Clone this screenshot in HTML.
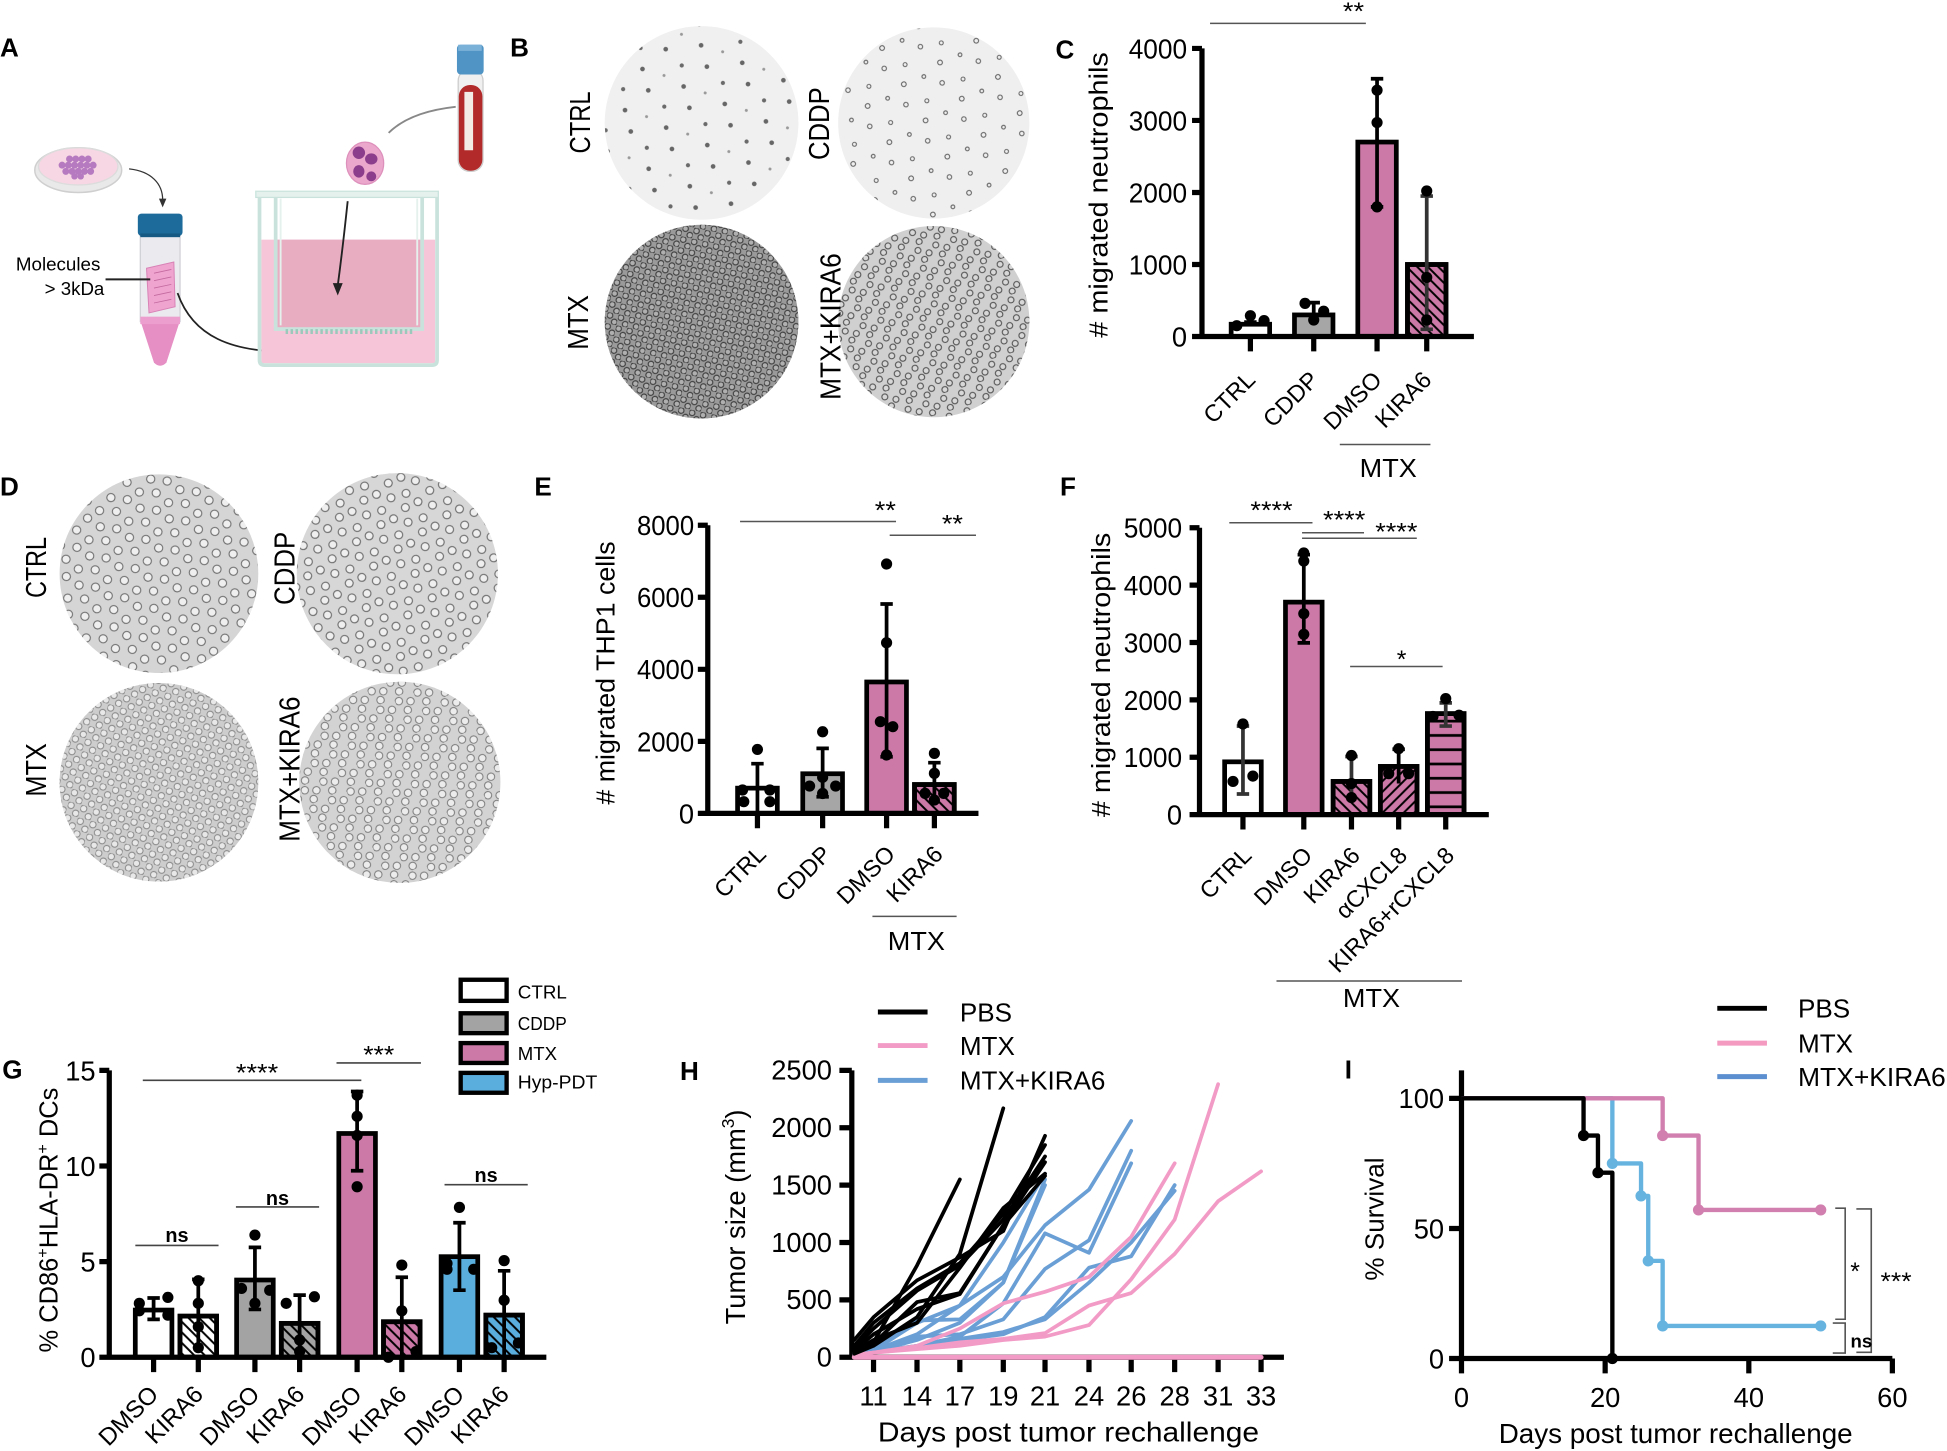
<!DOCTYPE html>
<html><head><meta charset="utf-8">
<style>html,body{margin:0;padding:0;background:#fff}svg{display:block}text{font-family:"Liberation Sans",sans-serif;fill:#000}</style>
</head><body>
<svg width="1947" height="1451" viewBox="0 0 1568 1168.5" preserveAspectRatio="none" xmlns="http://www.w3.org/2000/svg">
<defs>
<pattern id="hb" patternUnits="userSpaceOnUse" width="8.5" height="8.5"><path d="M-1,-1 L9.5,9.5 M-1,7.5 L1,9.5 M7.5,-1 L9.5,1" stroke="#000" stroke-width="1.6"/></pattern>
<pattern id="hf" patternUnits="userSpaceOnUse" width="8.5" height="8.5"><path d="M-1,9.5 L9.5,-1 M-1,1 L1,-1 M7.5,9.5 L9.5,7.5" stroke="#000" stroke-width="1.6"/></pattern>
<pattern id="hh" patternUnits="userSpaceOnUse" width="10" height="11.5"><path d="M0,5.75 H10" stroke="#000" stroke-width="2.2"/></pattern>
<pattern id="pB1" patternUnits="userSpaceOnUse" width="36" height="36" patternTransform="rotate(23)"><circle cx="5" cy="7" r="1.9" fill="#666"/><circle cx="22" cy="14" r="1.7" fill="#6a6a6a"/><circle cx="30" cy="29" r="1.9" fill="#666"/><circle cx="12" cy="27" r="1.2" fill="#999"/></pattern>
<pattern id="pB2" patternUnits="userSpaceOnUse" width="34" height="34" patternTransform="rotate(-31)"><g fill="none" stroke="#666" stroke-width="0.9"><circle cx="4" cy="6" r="1.8"/><circle cx="20" cy="12" r="1.6"/><circle cx="11" cy="25" r="1.9"/><circle cx="28" cy="28" r="1.5"/></g></pattern>
<pattern id="pB3" patternUnits="userSpaceOnUse" width="9" height="9" patternTransform="rotate(12)"><g fill="#b0b0b0" stroke="#3d3d3d" stroke-width="0.9"><circle cx="2.3" cy="2.3" r="2.3"/><circle cx="6.8" cy="6.8" r="2.3"/></g></pattern>
<pattern id="pB4" patternUnits="userSpaceOnUse" width="15" height="15" patternTransform="rotate(-17)"><g fill="#d8d8d8" stroke="#555" stroke-width="0.9"><circle cx="3" cy="4" r="2.4"/><circle cx="11" cy="8.5" r="2.4"/><circle cx="6" cy="12.5" r="2.4"/></g></pattern>
<pattern id="pD1" patternUnits="userSpaceOnUse" width="25" height="25" patternTransform="rotate(20)"><g fill="#efefef" stroke="#6f6f6f" stroke-width="0.9"><circle cx="4" cy="5" r="3.3"/><circle cx="16" cy="9" r="3.3"/><circle cx="9" cy="18" r="3.3"/><circle cx="21" cy="21" r="3.3"/></g></pattern>
<pattern id="pD2" patternUnits="userSpaceOnUse" width="24" height="24" patternTransform="rotate(-35)"><g fill="#efefef" stroke="#707070" stroke-width="0.9"><circle cx="4" cy="5" r="3.2"/><circle cx="16" cy="9" r="3.2"/><circle cx="9" cy="18" r="3.2"/><circle cx="20" cy="20" r="3.2"/></g></pattern>
<pattern id="pD3" patternUnits="userSpaceOnUse" width="10.5" height="10.5" patternTransform="rotate(15)"><g fill="#e8e8e8" stroke="#8a8a8a" stroke-width="0.8"><circle cx="2.6" cy="2.6" r="2.6"/><circle cx="7.9" cy="7.9" r="2.6"/></g></pattern>
<pattern id="pD4" patternUnits="userSpaceOnUse" width="16.5" height="16.5" patternTransform="rotate(-25)"><g fill="#ececec" stroke="#7a7a7a" stroke-width="0.8"><circle cx="3" cy="4" r="3"/><circle cx="11.5" cy="8" r="3"/><circle cx="6.5" cy="13.5" r="3"/></g></pattern>
</defs>
<rect x="0" y="0" width="1568" height="1168.5" fill="#fff"/>

<!-- ============ PANEL A ============ -->
<text x="0" y="45.5" font-size="21" font-weight="bold">A</text>
<ellipse cx="63" cy="137" rx="35" ry="18" fill="#e9e9ea" stroke="#cfcfcf" stroke-width="1.2"/>
<ellipse cx="63" cy="134" rx="32" ry="15" fill="#f6d7e3" stroke="#dcdcdc"/>
<g fill="#b57ac0">
<circle cx="56" cy="128" r="2.8"/><circle cx="61" cy="128" r="2.8"/><circle cx="66" cy="128" r="2.8"/><circle cx="71" cy="128" r="2.8"/>
<circle cx="50" cy="133" r="2.8"/><circle cx="55" cy="133" r="2.8"/><circle cx="60" cy="133" r="2.8"/><circle cx="65" cy="133" r="2.8"/><circle cx="70" cy="133" r="2.8"/><circle cx="75" cy="133" r="2.8"/>
<circle cx="53" cy="138" r="2.8"/><circle cx="58" cy="138" r="2.8"/><circle cx="63" cy="138" r="2.8"/><circle cx="68" cy="138" r="2.8"/><circle cx="73" cy="138" r="2.8"/>
<circle cx="60" cy="142" r="2.6"/><circle cx="65" cy="142" r="2.6"/>
</g>
<path d="M104,136 C122,138 131,148 131,161" stroke="#333" stroke-width="1" fill="none"/>
<polygon points="128,160 134,160 131,167" fill="#333"/>
<!-- conical tube -->
<rect x="113" y="189" width="32" height="70" fill="#ebebef" stroke="#cfcfd6" stroke-width="1"/>
<path d="M113,258 L145,258 L134,292 Q129,297 124,292 Z" fill="#e58fc4"/>
<rect x="113" y="255" width="32" height="6" fill="#ec9fcf"/>
<polygon points="118,216 140,211 141,247 120,252" fill="#efa4cf" stroke="#d882b6" stroke-width="0.8"/>
<path d="M124,220 L138,217 M124,226 L138,223 M124,232 L138,229 M124,238 L138,235 M124,244 L138,241" stroke="#c46aa0" stroke-width="0.7"/>
<rect x="111" y="172" width="36" height="18" rx="3" fill="#1d6b9a"/>
<rect x="113" y="188" width="32" height="3" fill="#165a84"/>
<text x="12.8" y="218" font-size="15" textLength="68" lengthAdjust="spacingAndGlyphs">Molecules</text>
<text x="36" y="237.6" font-size="15" textLength="48" lengthAdjust="spacingAndGlyphs">&gt; 3kDa</text>
<path d="M85,225 H121" stroke="#222" stroke-width="1.6"/>
<path d="M143,236 C155,270 185,285 240,283" stroke="#222" stroke-width="1.4" fill="none"/>
<polygon points="238,279 247,283 238,287" fill="#222"/>
<!-- transwell -->
<rect x="210.5" y="193" width="140" height="99.5" fill="#f6c5d7"/>
<path d="M209,159 V290 Q209,294 213,294 H348 Q352,294 352,290 V159" stroke="#c9e3dc" stroke-width="3" fill="none"/>
<rect x="223.5" y="193" width="115" height="71" fill="#e9adc2"/>
<path d="M222,157 V265 H340 V157" stroke="#c9e3dc" stroke-width="3" fill="none"/>
<path d="M226,160 V262 M336,160 V262" stroke="#e4f1ed" stroke-width="1.5"/>
<rect x="206" y="154" width="147" height="5" fill="#e4f1ed" stroke="#c9e3dc" stroke-width="1"/>
<path d="M230,267 H332" stroke="#9cc8bc" stroke-width="4" stroke-dasharray="2 2"/>
<!-- neutrophil -->
<ellipse cx="294" cy="131.5" rx="15" ry="17" fill="#eba7cc" stroke="#dd90bb"/>
<ellipse cx="289" cy="123" rx="5" ry="5" fill="#8c3d8c"/>
<ellipse cx="299" cy="128" rx="5" ry="4.5" fill="#8c3d8c"/>
<ellipse cx="289" cy="138" rx="4.5" ry="5" fill="#8c3d8c"/>
<ellipse cx="299" cy="142" rx="4" ry="4" fill="#8c3d8c"/>
<path d="M280,162 Q276,200 272,230" stroke="#222" stroke-width="1.5" fill="none"/>
<polygon points="268,228 276,228 272,238" fill="#222"/>
<!-- blood tube -->
<rect x="369" y="56" width="20" height="82" rx="9" fill="#f0f0f0" stroke="#cccccc"/>
<rect x="369.5" y="68.5" width="19" height="69" rx="9" fill="#b22a2a"/>
<rect x="374" y="74" width="7" height="47" fill="#f3ece6"/>
<rect x="368" y="36" width="21.5" height="24" rx="3" fill="#4f94c4"/>
<rect x="369" y="36" width="19" height="5" fill="#7ab1d8"/>
<path d="M313,107 Q330,90 367,86" stroke="#888" stroke-width="1.5" fill="none"/>

<!-- ============ PANEL B ============ -->
<text x="410.8" y="45.5" font-size="21" font-weight="bold">B</text>
<circle cx="565" cy="99" r="78" fill="#f0f0f0"/><circle cx="565" cy="99" r="78" fill="url(#pB1)"/>
<circle cx="752" cy="99" r="77" fill="#efefef"/><circle cx="752" cy="99" r="77" fill="url(#pB2)"/>
<circle cx="565" cy="259" r="78" fill="#9a9a9a"/><circle cx="565" cy="259" r="78" fill="url(#pB3)"/>
<circle cx="752" cy="259" r="77" fill="#d0d0d0"/><circle cx="752" cy="259" r="77" fill="url(#pB4)"/>
<g font-size="23" text-anchor="middle">
<text transform="translate(475,98.6) rotate(-90)" textLength="50" lengthAdjust="spacingAndGlyphs">CTRL</text>
<text transform="translate(667.5,99.6) rotate(-90)" textLength="58.6" lengthAdjust="spacingAndGlyphs">CDDP</text>
<text transform="translate(473.5,259.7) rotate(-90)" textLength="44" lengthAdjust="spacingAndGlyphs">MTX</text>
<text transform="translate(677,263) rotate(-90)" textLength="118" lengthAdjust="spacingAndGlyphs">MTX+KIRA6</text>
</g>

<!-- ============ PANEL C ============ -->
<text x="850" y="47" font-size="21" font-weight="bold">C</text>
<path d="M974.5,18.8 H1100" stroke="#555" stroke-width="1.2"/>
<text x="1090" y="16" font-size="20" text-anchor="middle" textLength="17" lengthAdjust="spacingAndGlyphs">**</text>
<g stroke="#000" stroke-width="3.8">
<rect x="991.5" y="261.1" width="31" height="9.9" fill="#fff"/>
<rect x="1042.5" y="253.6" width="31" height="17.4" fill="#a6a6a6"/>
<rect x="1093.5" y="114.4" width="31" height="156.6" fill="#cc79a7"/>
<rect x="1133.5" y="213" width="31" height="58" fill="#cc79a7"/>
</g>
<rect x="1133.5" y="213" width="31" height="58" fill="url(#hb)"/>
<rect x="1133.5" y="213" width="31" height="58" fill="none" stroke="#000" stroke-width="3.8"/>
<g stroke="#000" stroke-width="3" fill="none">
<path d="M1007,259.4 V262.9 M1002,259.4 H1012"/>
<path d="M1058,259.4 V243.7 M1053,243.7 H1063"/>
<path d="M1109,166.6 V63.4 M1104,63.4 H1114 M1104,166.6 H1114"/>
<path d="M1149,265.2 V157.9 M1144,157.9 H1154 M1144,265.2 H1154" stroke="#333"/>
</g>
<g fill="#000">
<circle cx="996" cy="262.3" r="4.5"/><circle cx="1007" cy="254.2" r="4.5"/><circle cx="1018" cy="258.2" r="4.5"/>
<circle cx="1051" cy="244.3" r="4.5"/><circle cx="1058" cy="257.7" r="4.5"/><circle cx="1066" cy="250.6" r="4.5"/>
<circle cx="1109" cy="72.6" r="4.5"/><circle cx="1109" cy="98.7" r="4.5"/><circle cx="1109" cy="166.6" r="4.5"/>
<circle cx="1149" cy="153.8" r="4.5"/><circle cx="1149" cy="223.4" r="4.5"/><circle cx="1149" cy="257.7" r="4.5"/>
</g>
<path d="M968,39 V271 H1187 M960,39 H968 M960,97 H968 M960,155 H968 M960,213 H968 M960,271 H968 M1007,271 V283 M1058,271 V283 M1109,271 V283 M1149,271 V283" stroke="#000" stroke-width="4.2" fill="none"/>
<g font-size="22" text-anchor="end">
<text x="956" y="47" textLength="47" lengthAdjust="spacingAndGlyphs">4000</text>
<text x="956" y="105" textLength="47" lengthAdjust="spacingAndGlyphs">3000</text>
<text x="956" y="163" textLength="47" lengthAdjust="spacingAndGlyphs">2000</text>
<text x="956" y="221" textLength="47" lengthAdjust="spacingAndGlyphs">1000</text>
<text x="956" y="279">0</text>
</g>
<text transform="translate(892,157) rotate(-90)" font-size="21" text-anchor="middle" textLength="230" lengthAdjust="spacingAndGlyphs"># migrated neutrophils</text>
<g font-size="19" text-anchor="end">
<text transform="translate(1012,307) rotate(-45)">CTRL</text>
<text transform="translate(1063,307) rotate(-45)">CDDP</text>
<text transform="translate(1114,307) rotate(-45)">DMSO</text>
<text transform="translate(1154,307) rotate(-45)">KIRA6</text>
</g>
<path d="M1079,358 H1152" stroke="#555" stroke-width="1.2"/>
<text x="1118" y="384" font-size="21" text-anchor="middle" textLength="46" lengthAdjust="spacingAndGlyphs">MTX</text>

<!-- ============ PANEL D ============ -->
<text x="0" y="399" font-size="21" font-weight="bold">D</text>
<circle cx="128" cy="462" r="80" fill="#d5d5d5"/><circle cx="128" cy="462" r="80" fill="url(#pD1)"/>
<circle cx="320" cy="462" r="81" fill="#d7d7d7"/><circle cx="320" cy="462" r="81" fill="url(#pD2)"/>
<circle cx="128" cy="630" r="80" fill="#cdcdcd"/><circle cx="128" cy="630" r="80" fill="url(#pD3)"/>
<circle cx="322" cy="630" r="81" fill="#d3d3d3"/><circle cx="322" cy="630" r="81" fill="url(#pD4)"/>
<g font-size="23" text-anchor="middle">
<text transform="translate(37,457) rotate(-90)" textLength="49" lengthAdjust="spacingAndGlyphs">CTRL</text>
<text transform="translate(237.3,457.7) rotate(-90)" textLength="59" lengthAdjust="spacingAndGlyphs">CDDP</text>
<text transform="translate(37,620) rotate(-90)" textLength="43" lengthAdjust="spacingAndGlyphs">MTX</text>
<text transform="translate(241.4,619.4) rotate(-90)" textLength="117" lengthAdjust="spacingAndGlyphs">MTX+KIRA6</text>
</g>

<!-- ============ PANEL E ============ -->
<text x="430.4" y="399" font-size="21" font-weight="bold">E</text>
<path d="M596,420 H721.6 M716.5,431 H786" stroke="#555" stroke-width="1.2"/>
<text x="713" y="418" font-size="20" text-anchor="middle" textLength="17" lengthAdjust="spacingAndGlyphs">**</text>
<text x="767" y="429" font-size="20" text-anchor="middle" textLength="17" lengthAdjust="spacingAndGlyphs">**</text>
<g stroke="#000" stroke-width="3.8">
<rect x="594" y="634.7" width="32" height="20.3" fill="#fff"/>
<rect x="646.5" y="623.1" width="32" height="31.9" fill="#a6a6a6"/>
<rect x="698" y="549.2" width="32" height="105.8" fill="#cc79a7"/>
<rect x="736.5" y="631.8" width="32" height="23.2" fill="#cc79a7"/>
</g>
<rect x="736.5" y="631.8" width="32" height="23.2" fill="url(#hb)"/>
<rect x="736.5" y="631.8" width="32" height="23.2" fill="none" stroke="#000" stroke-width="3.8"/>
<g stroke="#000" stroke-width="3" fill="none">
<path d="M610,655 V615 M605,615 H615"/>
<path d="M662.5,641.6 V602.7 M657.5,602.7 H667.5 M657.5,641.6 H667.5"/>
<path d="M714,609.4 V486.4 M709,486.4 H719 M709,609.4 H719"/>
<path d="M752.5,648 V614.2 M747.5,614.2 H757.5"/>
</g>
<g fill="#000">
<circle cx="610" cy="603.5" r="4.5"/><circle cx="598" cy="636.2" r="4.5"/><circle cx="620" cy="636.2" r="4.5"/><circle cx="599" cy="645.6" r="4.5"/><circle cx="620" cy="645.6" r="4.5"/>
<circle cx="662.5" cy="589.3" r="4.5"/><circle cx="652" cy="633" r="4.5"/><circle cx="673" cy="633" r="4.5"/><circle cx="662.5" cy="639" r="4.5"/><circle cx="662.5" cy="626" r="4.5"/>
<circle cx="714" cy="454.2" r="4.5"/><circle cx="714" cy="517.6" r="4.5"/><circle cx="709" cy="581.2" r="4.5"/><circle cx="719" cy="585.2" r="4.5"/><circle cx="714" cy="608" r="4.5"/>
<circle cx="752.5" cy="606.7" r="4.5"/><circle cx="752.5" cy="622.8" r="4.5"/><circle cx="745" cy="638.9" r="4.5"/><circle cx="760" cy="638.9" r="4.5"/><circle cx="752.5" cy="644.3" r="4.5"/>
</g>
<path d="M570,423 V655 H788 M562,423 H570 M562,481 H570 M562,539 H570 M562,597 H570 M562,655 H570 M610,655 V667 M662.5,655 V667 M714,655 V667 M752.5,655 V667" stroke="#000" stroke-width="4.2" fill="none"/>
<g font-size="22" text-anchor="end">
<text x="559" y="431" textLength="46" lengthAdjust="spacingAndGlyphs">8000</text>
<text x="559" y="489" textLength="46" lengthAdjust="spacingAndGlyphs">6000</text>
<text x="559" y="547" textLength="46" lengthAdjust="spacingAndGlyphs">4000</text>
<text x="559" y="605" textLength="46" lengthAdjust="spacingAndGlyphs">2000</text>
<text x="559" y="663">0</text>
</g>
<text transform="translate(495,542) rotate(-90)" font-size="21" text-anchor="middle" textLength="212" lengthAdjust="spacingAndGlyphs"># migrated THP1 cells</text>
<g font-size="19" text-anchor="end">
<text transform="translate(618,689) rotate(-45)">CTRL</text>
<text transform="translate(670.5,689) rotate(-45)">CDDP</text>
<text transform="translate(722,689) rotate(-45)">DMSO</text>
<text transform="translate(760.5,689) rotate(-45)">KIRA6</text>
</g>
<path d="M702.6,738 H770.4" stroke="#555" stroke-width="1.2"/>
<text x="738" y="765" font-size="21" text-anchor="middle" textLength="46" lengthAdjust="spacingAndGlyphs">MTX</text>

<!-- ============ PANEL F ============ -->
<text x="853.7" y="399" font-size="21" font-weight="bold">F</text>
<path d="M990,421 H1057 M1048.6,429 H1098.5 M1048.6,433.5 H1141 M1087.3,536.7 H1161.8" stroke="#555" stroke-width="1.2"/>
<g font-size="20" text-anchor="middle">
<text x="1024" y="418" textLength="34" lengthAdjust="spacingAndGlyphs">****</text>
<text x="1082.5" y="425.6" textLength="34" lengthAdjust="spacingAndGlyphs">****</text>
<text x="1124.5" y="435.4" textLength="34" lengthAdjust="spacingAndGlyphs">****</text>
<text x="1128.8" y="538">*</text>
</g>
<g stroke="#000" stroke-width="3.8">
<rect x="986.25" y="613.5" width="29.5" height="42.5" fill="#fff"/>
<rect x="1035.25" y="484.9" width="29.5" height="171.1" fill="#cc79a7"/>
<rect x="1073.65" y="629.3" width="29.5" height="26.7" fill="#cc79a7"/>
<rect x="1111.65" y="617.2" width="29.5" height="38.8" fill="#cc79a7"/>
<rect x="1149.55" y="574.7" width="29.5" height="81.3" fill="#cc79a7"/>
</g>
<rect x="1073.65" y="629.3" width="29.5" height="26.7" fill="url(#hb)"/>
<rect x="1111.65" y="617.2" width="29.5" height="38.8" fill="url(#hf)"/>
<rect x="1149.55" y="574.7" width="29.5" height="81.3" fill="url(#hh)"/>
<g fill="none" stroke="#000" stroke-width="3.8">
<rect x="1073.65" y="629.3" width="29.5" height="26.7"/>
<rect x="1111.65" y="617.2" width="29.5" height="38.8"/>
<rect x="1149.55" y="574.7" width="29.5" height="81.3"/>
</g>
<g stroke="#000" stroke-width="3" fill="none">
<path d="M1001,639.4 V584.7 M996,584.7 H1006 M996,639.4 H1006" stroke="#333"/>
<path d="M1050,517.7 V446.7 M1045,446.7 H1055 M1045,517.7 H1055"/>
<path d="M1088.4,645 V609.2 M1083.4,609.2 H1093.4" stroke="#333"/>
<path d="M1126.4,631 V603.4 M1121.4,603.4 H1131.4"/>
<path d="M1164.3,584.7 V566 M1159.3,566 H1169.3 M1159.3,584.7 H1169.3" stroke="#333"/>
</g>
<g fill="#000">
<circle cx="1001" cy="583" r="4.5"/><circle cx="993" cy="629.3" r="4.5"/><circle cx="1009" cy="625" r="4.5"/>
<circle cx="1050" cy="445.3" r="4.5"/><circle cx="1050" cy="451.8" r="4.5"/><circle cx="1050" cy="494.2" r="4.5"/><circle cx="1050" cy="510.8" r="4.5"/>
<circle cx="1088.4" cy="608.4" r="4.5"/><circle cx="1088.4" cy="631" r="4.5"/><circle cx="1088.4" cy="642.3" r="4.5"/>
<circle cx="1126.4" cy="602.9" r="4.5"/><circle cx="1118.4" cy="623" r="4.5"/><circle cx="1134.4" cy="623" r="4.5"/>
<circle cx="1164.3" cy="562.6" r="4.5"/><circle cx="1154" cy="577" r="4.5"/><circle cx="1175" cy="576" r="4.5"/>
</g>
<path d="M966,425 V656 H1199 M958,425 H966 M958,471.2 H966 M958,517.4 H966 M958,563.6 H966 M958,609.8 H966 M958,656 H966 M1001,656 V668 M1050,656 V668 M1088.4,656 V668 M1126.4,656 V668 M1164.3,656 V668" stroke="#000" stroke-width="4.2" fill="none"/>
<g font-size="22" text-anchor="end">
<text x="952" y="433" textLength="47" lengthAdjust="spacingAndGlyphs">5000</text>
<text x="952" y="479.2" textLength="47" lengthAdjust="spacingAndGlyphs">4000</text>
<text x="952" y="525.4" textLength="47" lengthAdjust="spacingAndGlyphs">3000</text>
<text x="952" y="571.6" textLength="47" lengthAdjust="spacingAndGlyphs">2000</text>
<text x="952" y="617.8" textLength="47" lengthAdjust="spacingAndGlyphs">1000</text>
<text x="952" y="664">0</text>
</g>
<text transform="translate(894,543.5) rotate(-90)" font-size="21" text-anchor="middle" textLength="229" lengthAdjust="spacingAndGlyphs"># migrated neutrophils</text>
<g font-size="19" text-anchor="end">
<text transform="translate(1009,690) rotate(-45)">CTRL</text>
<text transform="translate(1058,690) rotate(-45)">DMSO</text>
<text transform="translate(1096.4,690) rotate(-45)">KIRA6</text>
<text transform="translate(1134.4,690) rotate(-45)">αCXCL8</text>
<text transform="translate(1172.3,690) rotate(-45)">KIRA6+rCXCL8</text>
</g>
<path d="M1028,790 H1177.4" stroke="#555" stroke-width="1.2"/>
<text x="1104.5" y="811" font-size="21" text-anchor="middle" textLength="46" lengthAdjust="spacingAndGlyphs">MTX</text>

<!-- ============ PANEL G ============ -->
<text x="1.8" y="868.4" font-size="21" font-weight="bold">G</text>
<g stroke="#000" stroke-width="3.5">
<rect x="371" y="789" width="37" height="17" fill="#fff"/>
<rect x="371" y="816" width="37" height="16" fill="#a3a3a3"/>
<rect x="371" y="840" width="37" height="16" fill="#cc79a7"/>
<rect x="371" y="864" width="37" height="16" fill="#5aaede"/>
</g>
<g font-size="15">
<text x="417" y="804" textLength="39.5" lengthAdjust="spacingAndGlyphs">CTRL</text>
<text x="417" y="829.5" textLength="39.5" lengthAdjust="spacingAndGlyphs">CDDP</text>
<text x="417" y="853.6" textLength="31.6" lengthAdjust="spacingAndGlyphs">MTX</text>
<text x="417" y="876.5" textLength="64" lengthAdjust="spacingAndGlyphs">Hyp-PDT</text>
</g>
<path d="M109,1003 H176 M190,972 H257 M358,954 H425 M115,870 H291 M271,856 H339" stroke="#444" stroke-width="1.3"/>
<g font-size="16" font-weight="bold" text-anchor="middle">
<text x="142.5" y="1000">ns</text><text x="223.5" y="970.5">ns</text><text x="391.5" y="951.7">ns</text>
</g>
<g font-size="20" text-anchor="middle">
<text x="207" y="871" textLength="34" lengthAdjust="spacingAndGlyphs">****</text>
<text x="305" y="856.4" textLength="25" lengthAdjust="spacingAndGlyphs">***</text>
</g>
<g stroke="#000" stroke-width="3.8">
<rect x="108.95" y="1055" width="29.5" height="38" fill="#fff"/>
<rect x="144.95" y="1059.9" width="29.5" height="33.1" fill="#fff"/>
<rect x="190.55" y="1030.8" width="29.5" height="62.2" fill="#a3a3a3"/>
<rect x="226.55" y="1065.7" width="29.5" height="27.3" fill="#a3a3a3"/>
<rect x="272.85" y="912.8" width="29.5" height="180.2" fill="#cc79a7"/>
<rect x="308.85" y="1064.4" width="29.5" height="28.6" fill="#cc79a7"/>
<rect x="355.25" y="1012" width="29.5" height="81" fill="#5aaede"/>
<rect x="391.25" y="1059.1" width="29.5" height="33.9" fill="#5aaede"/>
</g>
<g fill="url(#hb)">
<rect x="144.95" y="1059.9" width="29.5" height="33.1"/>
<rect x="226.55" y="1065.7" width="29.5" height="27.3"/>
<rect x="308.85" y="1064.4" width="29.5" height="28.6"/>
<rect x="391.25" y="1059.1" width="29.5" height="33.9"/>
</g>
<g fill="none" stroke="#000" stroke-width="3.8">
<rect x="144.95" y="1059.9" width="29.5" height="33.1"/>
<rect x="226.55" y="1065.7" width="29.5" height="27.3"/>
<rect x="308.85" y="1064.4" width="29.5" height="28.6"/>
<rect x="391.25" y="1059.1" width="29.5" height="33.9"/>
</g>
<g stroke="#000" stroke-width="3" fill="none">
<path d="M123.7,1062.5 V1045.3 M118.7,1045.3 H128.7 M118.7,1062.5 H128.7"/>
<path d="M159.7,1085.8 V1030.3 M154.7,1030.3 H164.7"/>
<path d="M205.3,1054.5 V1004.5 M200.3,1004.5 H210.3 M200.3,1054.5 H210.3"/>
<path d="M241.3,1088.4 V1043 M236.3,1043 H246.3"/>
<path d="M287.6,942.8 V879 M282.6,879 H292.6 M282.6,942.8 H292.6"/>
<path d="M323.6,1093 V1028.6 M318.6,1028.6 H328.6"/>
<path d="M370,1039 V984.7 M365,984.7 H375 M365,1039 H375"/>
<path d="M406,1093 V1023.4 M401,1023.4 H411"/>
</g>
<g fill="#000">
<circle cx="112.2" cy="1049.6" r="4.5"/><circle cx="112.2" cy="1055.6" r="4.5"/><circle cx="135.2" cy="1044.8" r="4.5"/><circle cx="135.2" cy="1059.1" r="4.5"/>
<circle cx="159.7" cy="1031.4" r="4.5"/><circle cx="159.7" cy="1049.6" r="4.5"/><circle cx="159.7" cy="1068.4" r="4.5"/><circle cx="159.7" cy="1085.3" r="4.5"/>
<circle cx="205.3" cy="994.6" r="4.5"/><circle cx="194.5" cy="1037.6" r="4.5"/><circle cx="217.2" cy="1039.1" r="4.5"/><circle cx="205.3" cy="1049.6" r="4.5"/>
<circle cx="230.5" cy="1049.6" r="4.5"/><circle cx="253.2" cy="1044.3" r="4.5"/><circle cx="241.3" cy="1079.1" r="4.5"/><circle cx="241.3" cy="1088.4" r="4.5"/>
<circle cx="287.6" cy="882" r="4.5"/><circle cx="287.6" cy="899" r="4.5"/><circle cx="287.6" cy="914.4" r="4.5"/><circle cx="287.6" cy="955.7" r="4.5"/>
<circle cx="323.6" cy="1018.8" r="4.5"/><circle cx="323.6" cy="1055.6" r="4.5"/><circle cx="312.8" cy="1093" r="4.5"/><circle cx="335" cy="1088.4" r="4.5"/>
<circle cx="370" cy="972.3" r="4.5"/><circle cx="360" cy="1017.5" r="4.5"/><circle cx="381.5" cy="1022.2" r="4.5"/><circle cx="360" cy="1022.2" r="4.5"/>
<circle cx="406" cy="1015.2" r="4.5"/><circle cx="406" cy="1047.1" r="4.5"/><circle cx="396" cy="1085.3" r="4.5"/><circle cx="417.5" cy="1081.5" r="4.5"/>
</g>
<path d="M88,862 V1093 H440 M80,862 H88 M80,939 H88 M80,1016 H88 M80,1093 H88 M123.7,1093 V1105 M159.7,1093 V1105 M205.3,1093 V1105 M241.3,1093 V1105 M287.6,1093 V1105 M323.6,1093 V1105 M370,1093 V1105 M406,1093 V1105" stroke="#000" stroke-width="4.2" fill="none"/>
<g font-size="22" text-anchor="end">
<text x="77" y="870">15</text><text x="77" y="947">10</text><text x="77" y="1024">5</text><text x="77" y="1101">0</text>
</g>
<text transform="translate(46.5,982.5) rotate(-90)" font-size="20.5" text-anchor="middle">% CD86<tspan dy="-8" font-size="13">+</tspan><tspan dy="8">HLA-DR</tspan><tspan dy="-8" font-size="13">+</tspan><tspan dy="8"> DCs</tspan></text>
<g font-size="19.5" text-anchor="end">
<text transform="translate(128.7,1124) rotate(-45)">DMSO</text>
<text transform="translate(164.7,1124) rotate(-45)">KIRA6</text>
<text transform="translate(210.3,1124) rotate(-45)">DMSO</text>
<text transform="translate(246.3,1124) rotate(-45)">KIRA6</text>
<text transform="translate(292.6,1124) rotate(-45)">DMSO</text>
<text transform="translate(328.6,1124) rotate(-45)">KIRA6</text>
<text transform="translate(375,1124) rotate(-45)">DMSO</text>
<text transform="translate(411,1124) rotate(-45)">KIRA6</text>
</g>

<!-- ============ PANEL H ============ -->
<text x="547.6" y="869.8" font-size="21" font-weight="bold">H</text>
<path d="M707,815 H747" stroke="#000" stroke-width="4"/>
<path d="M707,842 H747" stroke="#f29bc6" stroke-width="4"/>
<path d="M707,870 H747" stroke="#6a9fd6" stroke-width="4"/>
<g font-size="21">
<text x="773" y="822.5">PBS</text><text x="773" y="849.5">MTX</text><text x="773" y="877.5">MTX+KIRA6</text>
</g>
<path d="M686,862 V1093 H1034 M676,862 H686 M676,908.2 H686 M676,954.4 H686 M676,1000.6 H686 M676,1046.8 H686 M676,1093 H686 M703.5,1093 V1105 M738.5,1093 V1105 M773,1093 V1105 M808,1093 V1105 M841.6,1093 V1105 M877,1093 V1105 M911,1093 V1105 M946,1093 V1105 M981,1093 V1105 M1015.6,1093 V1105" stroke="#000" stroke-width="4.2" fill="none"/>
<g fill="none" stroke-width="3" stroke-linejoin="round" stroke-linecap="round">
<g stroke="#6a9fd6">
<polyline points="688,1089.3 703.5,1085.6 738.5,1063.4 773,1062.5 808,1032.9 841.6,949.8"/>
<polyline points="688,1090.2 703.5,1087.5 738.5,1074.5 773,1051.4 808,1000.6 841.6,945.2"/>
<polyline points="688,1091.2 703.5,1088.4 738.5,1079.1 773,1065.3 808,1032.9 841.6,954.4"/>
<polyline points="688,1090.2 703.5,1087.5 738.5,1065.3 773,1051.4 808,1028.3 841.6,986.7 877,958.1 911,902.7"/>
<polyline points="688,1091.2 703.5,1088.4 738.5,1076.4 773,1074.5 808,1062.5 841.6,1021.9 877,998.8 911,926.7"/>
<polyline points="688,1091.2 703.5,1088.4 738.5,1083.8 773,1076.4 808,1049.6 841.6,993.2 877,1008.9 911,936.8"/>
<polyline points="688,1091.2 703.5,1089.3 738.5,1084.7 773,1079.1 808,1074.5 841.6,1060.7 877,1020.9 911,1011.7 946,954.4"/>
<polyline points="688,1091.2 703.5,1089.3 738.5,1083.8 773,1078.2 808,1072.7 841.6,1062.5 877,1032.9 911,1000.6 946,959"/>
</g>
<g stroke="#f29bc6">
<polyline points="688,1093 1015.6,1093" stroke-width="4"/>
<polyline points="688,1091.2 703.5,1089.3 738.5,1086.5 773,1083.8 808,1079.1 841.6,1076.4 877,1067.1 911,1030.2 946,982.1 981,873.1"/>
<polyline points="688,1091.2 703.5,1089.3 738.5,1085.6 773,1081 808,1078.2 841.6,1073.6 877,1051.4 911,1041.3 946,1009.8 981,967.3 1015.6,943.3"/>
<polyline points="688,1091.2 703.5,1089.3 738.5,1083.8 773,1069.9 808,1049.6 841.6,1040.3 877,1028.3 911,996 946,936.8"/>
</g>
<g stroke="#000">
<polyline points="688,1079.1 703.5,1060.7 738.5,1031.1 773,1012.6 808,991.4 841.6,914.7"/>
<polyline points="688,1083.8 703.5,1065.3 738.5,1037.6 773,1017.2 808,977.5 841.6,922.1"/>
<polyline points="688,1085.6 703.5,1069.9 738.5,1039.4 773,1019.1 808,982.1 841.6,931.3"/>
<polyline points="688,1087.5 703.5,1074.5 738.5,1054.2 773,1042.2 808,986.7 841.6,935.9"/>
<polyline points="688,1088.4 703.5,1079.1 738.5,1065.3 773,1020.9 808,972.9 841.6,945.2"/>
<polyline points="688,1089.3 703.5,1081 738.5,1019.1 773,949.8"/>
<polyline points="688,1090.2 703.5,1083.8 738.5,1060.7 773,1009.8 808,892.5"/>
<polyline points="688,1089.3 703.5,1081.9 738.5,1048.6 773,1041.3 808,986.7 841.6,947"/>
</g>
</g>
<g font-size="22" text-anchor="end">
<text x="670" y="869.5">2500</text><text x="670" y="915.7">2000</text><text x="670" y="961.9">1500</text><text x="670" y="1008.1">1000</text><text x="670" y="1054.3">500</text><text x="670" y="1100.5">0</text>
</g>
<g font-size="22" text-anchor="middle">
<text x="703.5" y="1132">11</text><text x="738.5" y="1132">14</text><text x="773" y="1132">17</text><text x="808" y="1132">19</text><text x="841.6" y="1132">21</text><text x="877" y="1132">24</text><text x="911" y="1132">26</text><text x="946" y="1132">28</text><text x="981" y="1132">31</text><text x="1015.6" y="1132">33</text>
</g>
<text x="860.5" y="1161" font-size="22" text-anchor="middle" textLength="307" lengthAdjust="spacingAndGlyphs">Days post tumor rechallenge</text>
<text transform="translate(600,980) rotate(-90)" font-size="22" text-anchor="middle">Tumor size (mm<tspan dy="-9" font-size="14">3</tspan><tspan dy="9">)</tspan></text>

<!-- ============ PANEL I ============ -->
<text x="1083" y="868.6" font-size="21" font-weight="bold">I</text>
<path d="M1383,812 H1423" stroke="#000" stroke-width="4"/>
<path d="M1383,840 H1423" stroke="#f49ac1" stroke-width="4"/>
<path d="M1383,867 H1423" stroke="#5b8fd0" stroke-width="4"/>
<g font-size="21">
<text x="1448" y="819.5">PBS</text><text x="1448" y="847.5">MTX</text><text x="1448" y="874.5" textLength="119" lengthAdjust="spacingAndGlyphs">MTX+KIRA6</text>
</g>
<path d="M1177,862 V1094 H1524 M1167,884.5 H1177 M1167,989.3 H1177 M1167,1094 H1177 M1177,1094 V1106 M1292.7,1094 V1106 M1408.4,1094 V1106 M1524,1094 V1106" stroke="#000" stroke-width="4.2" fill="none"/>
<g fill="none" stroke-width="3.5" stroke-linejoin="round">
<path d="M1177,884.5 H1298.5 V936.9 H1321.6 V963.1 H1327.4 V1015.4 H1339 V1067.8 H1466.3" stroke="#66b3e0"/>
<path d="M1177,884.5 H1339 V914.5 H1367.9 V974.4 H1466.3" stroke="#d17fae"/>
<path d="M1177,884.5 H1275.3 V914.5 H1286.9 V944.4 H1298.5 V1094" stroke="#000"/>
</g>
<g fill="#66b3e0">
<circle cx="1298.5" cy="936.9" r="4.5"/><circle cx="1321.6" cy="963.1" r="4.5"/><circle cx="1327.4" cy="1015.4" r="4.5"/><circle cx="1339" cy="1067.8" r="4.5"/><circle cx="1466.3" cy="1067.8" r="4.5"/>
</g>
<g fill="#d17fae">
<circle cx="1339" cy="914.5" r="4.5"/><circle cx="1367.9" cy="974.4" r="4.5"/><circle cx="1466.3" cy="974.4" r="4.5"/>
</g>
<g fill="#000">
<circle cx="1275.3" cy="914.5" r="4.5"/><circle cx="1286.9" cy="944.4" r="4.5"/><circle cx="1298.5" cy="1094" r="4.5"/>
</g>
<path d="M1478,973 H1486 V1062.4 H1478 M1476,1065.5 H1486 V1089.6 H1476 M1495,973.6 H1507 V1089 H1495" stroke="#555" stroke-width="1.3" fill="none"/>
<text x="1494" y="1031" font-size="20" text-anchor="middle">*</text>
<text x="1499" y="1085" font-size="15" font-weight="bold" text-anchor="middle">ns</text>
<text x="1527" y="1039" font-size="20" text-anchor="middle" textLength="25" lengthAdjust="spacingAndGlyphs">***</text>
<g font-size="22" text-anchor="end">
<text x="1163" y="892.4">100</text><text x="1163" y="997.2">50</text><text x="1163" y="1101.9">0</text>
</g>
<g font-size="22" text-anchor="middle">
<text x="1177" y="1133">0</text><text x="1292.7" y="1133">20</text><text x="1408.4" y="1133">40</text><text x="1524" y="1133">60</text>
</g>
<text x="1349.5" y="1162" font-size="22" text-anchor="middle" textLength="285" lengthAdjust="spacingAndGlyphs">Days post tumor rechallenge</text>
<text transform="translate(1114,981.7) rotate(-90)" font-size="21" text-anchor="middle">% Survival</text>
</svg>
</body></html>
